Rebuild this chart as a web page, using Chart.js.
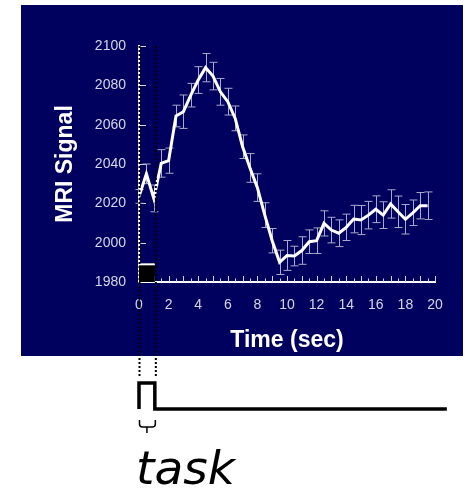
<!DOCTYPE html>
<html>
<head>
<meta charset="utf-8">
<script src="https://cdn.jsdelivr.net/npm/chart.js@4/dist/chart.umd.min.js"></script>
<style>
  html, body { margin: 0; padding: 0; background: #fff; }
  #wrap { width: 465px; height: 494px; }
</style>
</head>
<body>
<div id="wrap"><canvas id="mri" width="465" height="494"></canvas></div>
<script>
// ------------------------------------------------------------
// data
// ------------------------------------------------------------
const times = [0, 0.5, 1, 1.5, 2, 2.5, 3, 3.5, 4, 4.5, 5, 5.5, 6, 6.5, 7, 7.5, 8, 8.5, 9, 9.5,
  10, 10.5, 11, 11.5, 12, 12.5, 13, 13.5, 14, 14.5, 15, 15.5, 16, 16.5, 17, 17.5, 18, 18.5, 19, 19.5];

const signal = [2023.5, 2035, 2022.5, 2040.3, 2041.7, 2064.4, 2066.6, 2075, 2082.7, 2089,
  2084.7, 2076.7, 2071.7, 2063.2, 2048.8, 2038, 2028, 2014, 2001, 1990,
  1993.5, 1993.2, 1996, 2000.5, 2001, 2009.8, 2006.4, 2004.8, 2007.8, 2012,
  2011.5, 2014, 2017, 2014, 2019.7, 2015.7, 2011.9, 2015.2, 2018.8, 2018.8];

const signalErr = [3.5, 5, 6.8, 7, 6.4, 5.5, 8.5, 6, 6.8, 7.2,
  7, 6.8, 6.8, 6.3, 6, 7.3, 7, 6.3, 6.2, 6.2,
  7.6, 5, 7, 6, 6.5, 6.4, 6.5, 6.8, 6.7, 7,
  7.4, 7, 6.8, 6.8, 7.2, 8, 7.5, 6.5, 6.7, 7];

const timeTicks = [0, 2, 4, 6, 8, 10, 12, 14, 16, 18, 20];
const signalTicks = [1980, 2000, 2020, 2040, 2060, 2080, 2100];

// task block (sec) and the marker drawn on the baseline
const taskOnset = 0;
const taskOffset = 1.07;
const taskMarkerLevel = 1989.5;
const taskLineEnd = 20.8;
const taskLabel = 'task';

const navy = '#00005f';
const tickColor = '#d6d6e4';
const errColor = '#a9a9cc';

// ------------------------------------------------------------
// background, error bars, stimulus marks
// ------------------------------------------------------------
const decor = {
  id: 'decor',
  beforeDraw(chart) {
    const ctx = chart.ctx;
    ctx.save();
    ctx.fillStyle = '#ffffff';
    ctx.fillRect(0, 0, chart.width, chart.height);
    ctx.fillStyle = navy;
    ctx.fillRect(21, 5, 442, 351);
    ctx.restore();
  },
  beforeDatasetsDraw(chart) {
    const ctx = chart.ctx;
    const xs = chart.scales.x;
    const ys = chart.scales.y;
    const base = ys.getPixelForValue(signalTicks[0]);
    ctx.save();

    // inward ticks on the time axis
    ctx.strokeStyle = tickColor;
    ctx.lineWidth = 1;
    for (let i = 1; i <= 40; i++) {
      const t = i * 0.5;
      const px = Math.round(xs.getPixelForValue(t)) + 0.5;
      const len = Number.isInteger(t) ? 6 : 3.5;
      ctx.beginPath();
      ctx.moveTo(px, base);
      ctx.lineTo(px, base - len);
      ctx.stroke();
    }
    // inward ticks on the signal axis
    const x0 = xs.getPixelForValue(0);
    signalTicks.slice(1).forEach(v => {
      const py = Math.round(ys.getPixelForValue(v)) + 0.5;
      ctx.beginPath();
      ctx.moveTo(x0, py);
      ctx.lineTo(x0 + 7, py);
      ctx.stroke();
    });

    // task marker on the baseline
    const bx0 = xs.getPixelForValue(taskOnset);
    const bx1 = xs.getPixelForValue(taskOffset);
    const by = ys.getPixelForValue(taskMarkerLevel);
    ctx.fillStyle = '#000000';
    ctx.fillRect(bx0, by, bx1 - bx0, base - by);
    ctx.fillStyle = '#ffffff';
    ctx.fillRect(bx0, by, bx1 - bx0, 2);

    // error bars
    ctx.strokeStyle = errColor;
    ctx.lineWidth = 1;
    times.forEach((t, i) => {
      const px = Math.round(xs.getPixelForValue(t)) + 0.5;
      const top = ys.getPixelForValue(signal[i] + signalErr[i]);
      const bot = Math.min(ys.getPixelForValue(signal[i] - signalErr[i]), base);
      ctx.beginPath();
      ctx.moveTo(px, top);
      ctx.lineTo(px, bot);
      ctx.moveTo(px - 4, top);
      ctx.lineTo(px + 4, top);
      ctx.moveTo(px - 4, bot);
      ctx.lineTo(px + 4, bot);
      ctx.stroke();
    });
    ctx.restore();
  },
  afterDatasetsDraw(chart) {
    const ctx = chart.ctx;
    const xs = chart.scales.x;
    const top = chart.chartArea.top;
    const xOn = xs.getPixelForValue(taskOnset);
    const xOff = xs.getPixelForValue(taskOffset);
    ctx.save();

    // dotted task boundaries
    ctx.strokeStyle = '#000000';
    ctx.lineWidth = 2;
    ctx.setLineDash([2, 2]);
    [xOn + 0.5, xOff + 1].forEach(px => {
      ctx.beginPath();
      ctx.moveTo(px, top);
      ctx.lineTo(px, 376);
      ctx.stroke();
    });
    ctx.setLineDash([]);

    // task time course
    const xEnd = xs.getPixelForValue(taskLineEnd);
    ctx.lineWidth = 3.5;
    ctx.lineJoin = 'miter';
    ctx.beginPath();
    ctx.moveTo(xOn, 409);
    ctx.lineTo(xOn, 383);
    ctx.lineTo(xOff, 383);
    ctx.lineTo(xOff, 409);
    ctx.lineTo(xEnd, 409);
    ctx.stroke();

    // small brace under the block
    const mid = (xOn + xOff) / 2;
    ctx.lineWidth = 1.5;
    ctx.beginPath();
    ctx.moveTo(xOn + 0.5, 420);
    ctx.lineTo(xOn + 0.5, 424);
    ctx.quadraticCurveTo(xOn + 0.5, 427, xOn + 3.5, 427);
    ctx.lineTo(mid, 427);
    ctx.lineTo(mid, 433);
    ctx.moveTo(mid, 427);
    ctx.lineTo(xOff - 2.5, 427);
    ctx.quadraticCurveTo(xOff + 0.5, 427, xOff + 0.5, 424);
    ctx.lineTo(xOff + 0.5, 420);
    ctx.stroke();

    ctx.fillStyle = '#000000';
    ctx.font = 'italic 47px "DejaVu Sans"';
    ctx.textBaseline = 'alphabetic';
    ctx.fillText(taskLabel, xOn - 3, 484);
    ctx.restore();
  }
};

new Chart(document.getElementById('mri'), {
  type: 'line',
  data: {
    datasets: [{
      label: 'MRI Signal',
      data: times.map((t, i) => ({ x: t, y: signal[i] })),
      borderColor: '#ffffff',
      borderWidth: 3,
      pointRadius: 0,
      tension: 0,
      fill: false
    }]
  },
  options: {
    responsive: false,
    animation: false,
    layout: { padding: { top: 46, right: 30, left: 0, bottom: 0 } },
    plugins: {
      legend: { display: false },
      tooltip: { enabled: false }
    },
    scales: {
      x: {
        type: 'linear',
        min: 0,
        max: 20,
        afterFit: (scale) => { scale.height = 212; },
        afterBuildTicks: (scale) => { scale.ticks = timeTicks.map(v => ({ value: v })); },
        grid: { display: false, drawTicks: false },
        border: { display: true, color: '#ffffff', width: 2 },
        ticks: {
          color: tickColor,
          padding: 15,
          maxRotation: 0,
          callback: (v) => String(v),
          font: { family: "'Liberation Sans', Arial, sans-serif", size: 14 }
        },
        title: {
          display: true,
          text: 'Time (sec)',
          color: '#ffffff',
          font: { family: "'Liberation Sans', Arial, sans-serif", size: 23, weight: 'bold' },
          padding: { top: 0, bottom: 140 }
        }
      },
      y: {
        min: 1980,
        max: 2100,
        afterFit: (scale) => { scale.width = 139; },
        afterBuildTicks: (scale) => { scale.ticks = signalTicks.map(v => ({ value: v })); },
        grid: { display: false, drawTicks: false },
        border: { display: true, color: '#ffffff', width: 2 },
        ticks: {
          color: tickColor,
          padding: 13,
          callback: (v) => String(v),
          font: { family: "'Liberation Sans', Arial, sans-serif", size: 14 }
        },
        title: {
          display: true,
          text: 'MRI Signal',
          color: '#ffffff',
          font: { family: "'Liberation Sans', Arial, sans-serif", size: 23, weight: 'bold' },
          padding: { top: 52, bottom: 0 }
        }
      }
    }
  },
  plugins: [decor]
});
</script>
</body>
</html>
